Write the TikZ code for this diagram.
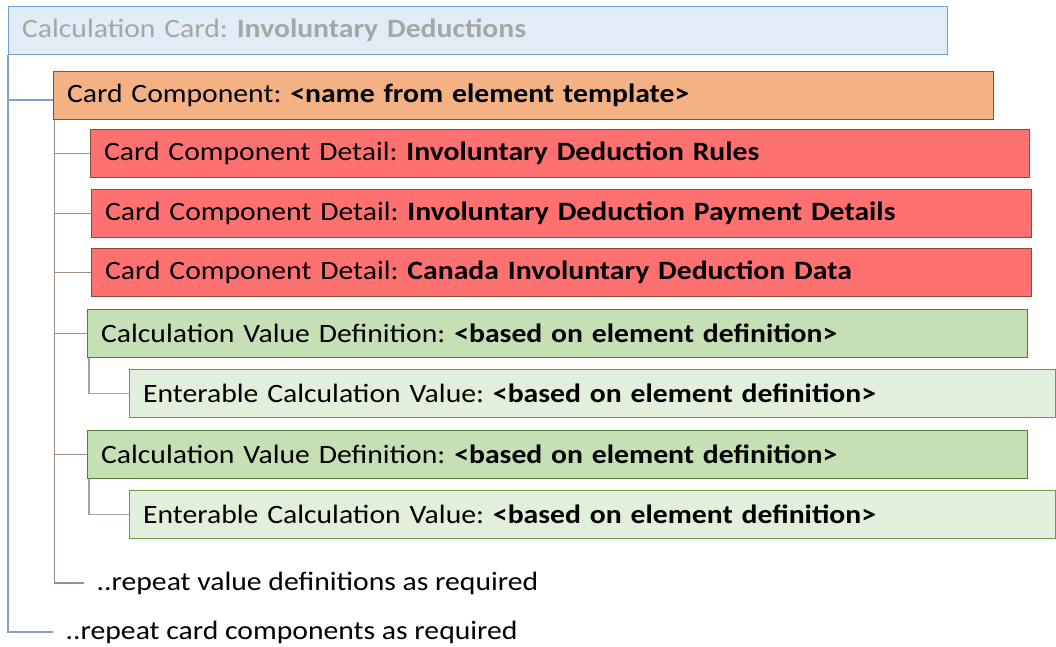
\documentclass[tikz,border=0pt]{standalone}
\usepackage{fontspec}
\setmainfont[FakeStretch=1.12]{Carlito}
\frenchspacing
\definecolor{topfill}{HTML}{E2ECF6}
\definecolor{topdraw}{HTML}{6E9FD6}
\definecolor{topText}{HTML}{A6A6A6}
\definecolor{ccfill}{HTML}{F4B183}
\definecolor{ccdraw}{HTML}{8A4E2A}
\definecolor{redfill}{HTML}{FF7171}
\definecolor{grfill}{HTML}{C5E0B4}
\definecolor{grdraw}{HTML}{507E34}
\definecolor{lgfill}{HTML}{E2EFDA}
\definecolor{lgdraw}{HTML}{6A9C48}
\definecolor{blueline}{HTML}{7FA1CC}
\definecolor{brownline}{HTML}{A38C80}
\definecolor{greenline}{HTML}{A0A89E}
\tikzset{
  cardbox/.style={rectangle, anchor=north west, line width=1.2pt, minimum height=48pt,
    inner xsep=13.5pt, inner ysep=0pt, align=left, font=\fontsize{26.5}{30}\selectfont},
  conn/.style={line width=1.1pt},
  reptext/.style={anchor=west, inner xsep=12.5pt, inner ysep=0pt, font=\fontsize{26.5}{30}\selectfont}
}
\begin{document}
\begin{tikzpicture}[x=1pt,y=-1pt]
\useasboundingbox (0,0) rectangle (1056,646);
\node[cardbox, fill=topfill, draw=topdraw, text width=912pt, text=topText] (top) at (8,6)
  {Calculation Card: \textbf{Involuntary Deductions}};
\node[cardbox, fill=ccfill, draw=ccdraw, text width=913pt] (cc) at (53,71)
  {Card Component: \textbf{<name from element template>}};
\node[cardbox, fill=redfill, draw=ccdraw, text width=912pt] (r1) at (90,129)
  {Card Component Detail: \textbf{Involuntary Deduction Rules}};
\node[cardbox, fill=redfill, draw=ccdraw, text width=913pt] (r2) at (91,189)
  {Card Component Detail: \textbf{Involuntary Deduction Payment Details}};
\node[cardbox, fill=redfill, draw=ccdraw, text width=913pt] (r3) at (91,248)
  {Card Component Detail: \textbf{Canada Involuntary Deduction Data}};
\node[cardbox, fill=grfill, draw=grdraw, text width=913pt] (g1) at (87,309)
  {Calculation Value Definition: \textbf{<based on element definition>}};
\node[cardbox, fill=lgfill, draw=lgdraw, text width=899pt] (l1) at (129,369)
  {Enterable Calculation Value: \textbf{<based on element definition>}};
\node[cardbox, fill=grfill, draw=grdraw, text width=913pt] (g2) at (87,430)
  {Calculation Value Definition: \textbf{<based on element definition>}};
\node[cardbox, fill=lgfill, draw=lgdraw, text width=899pt] (l2) at (129,490)
  {Enterable Calculation Value: \textbf{<based on element definition>}};
\node[reptext] (rep1) at (84,583) {..repeat value definitions as required};
\node[reptext] (rep2) at (53,632) {..repeat card components as required};
% blue connectors
\draw[conn, blueline] (top.south west) |- (rep2.west);
\draw[conn, blueline] (top.south west |- 0,100) -- (cc.west |- 0,100);
% brown connectors
\coordinate (bv) at (54.5,119.6);
\draw[conn, brownline] (bv) |- (rep1.west);
\foreach \n in {r1,r2,r3,g1,g2} {
  \draw[conn, brownline] (bv |- \n.west) -- (\n.west);
}
% green connectors
\draw[conn, greenline] ([xshift=2pt]g1.south west) |- (l1.west);
\draw[conn, greenline] ([xshift=2pt]g2.south west) |- (l2.west);
\end{tikzpicture}
\end{document}
